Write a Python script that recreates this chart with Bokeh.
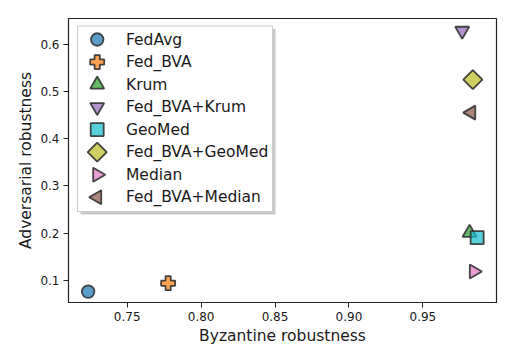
import math
from bokeh.plotting import figure
from bokeh.models import Range1d, FixedTicker, NumeralTickFormatter
from bokeh.core.properties import value
from bokeh.embed import file_html
from bokeh.resources import INLINE

methods = ["FedAvg", "Fed_BVA", "Krum", "Fed_BVA+Krum", "GeoMed",
           "Fed_BVA+GeoMed", "Median", "Fed_BVA+Median"]
byzantine = [0.7236, 0.7777, 0.9816, 0.9766, 0.9867, 0.9838, 0.9845, 0.9827]
adversarial = [0.0765, 0.0943, 0.2010, 0.6280, 0.1908, 0.5247, 0.1192, 0.4550]
colors = ["#1f77b4", "#ff7f0e", "#2ca02c", "#9467bd", "#17becf",
          "#bcbd22", "#e377c2", "#8c564b"]
markers = ["circle", "plus", "triangle", "inverted_triangle", "square",
           "square", "triangle", "triangle"]
angles = [0, 0, 0, 0, 0, math.pi / 4, -math.pi / 2, math.pi / 2]
sizes = [12.5, 14, 14, 14, 13, 13.5, 14, 14]
x_ticks = [0.75, 0.80, 0.85, 0.90, 0.95]
y_ticks = [0.1, 0.2, 0.3, 0.4, 0.5, 0.6]

FONT = "DejaVu Sans"

# layout (pixels)
W, H = 508, 355
BL, BR, BT, BB = 68, 12, 18, 53
FW, FH = W - BL - BR, H - BT - BB

p = figure(width=W, height=H, output_backend="svg", toolbar_location=None,
           x_range=Range1d(0.7103, 0.9998), y_range=Range1d(0.0535, 0.654),
           min_border_left=BL, min_border_right=BR, min_border_top=BT,
           min_border_bottom=BB)
p.xgrid.visible = False
p.ygrid.visible = False
p.outline_line_color = "#222222"
p.outline_line_width = 1.2
p.background_fill_color = "white"
p.border_fill_color = "white"

p.xaxis.ticker = FixedTicker(ticks=x_ticks)
p.yaxis.ticker = FixedTicker(ticks=y_ticks)
p.xaxis.formatter = NumeralTickFormatter(format="0.00")
p.yaxis.formatter = NumeralTickFormatter(format="0.0")
p.xaxis.axis_label = "Byzantine robustness"
p.yaxis.axis_label = "Adversarial robustness"
for ax in (p.xaxis, p.yaxis):
    ax.axis_line_color = "#222222"
    ax.major_tick_line_color = "#222222"
    ax.minor_tick_line_color = None
    ax.major_tick_in = 0
    ax.major_tick_out = 5
    ax.major_label_text_font = FONT
    ax.major_label_text_font_size = "12px"
    ax.major_label_text_color = "#1a1a1a"
    ax.axis_label_text_font = FONT
    ax.axis_label_text_font_size = "15.5px"
    ax.axis_label_text_font_style = "normal"
    ax.axis_label_text_color = "#1a1a1a"
    ax.major_label_standoff = 4
p.xaxis.axis_label_standoff = 3
p.yaxis.axis_label_standoff = 2

style = dict(fill_alpha=0.72, line_color="#333333", line_alpha=0.9, line_width=1.8)

for i in range(len(methods)):
    p.scatter(x=[byzantine[i]], y=[adversarial[i]], marker=markers[i],
              size=sizes[i], angle=angles[i], fill_color=colors[i], **style)

# legend drawn in a pixel coordinate system of the plot frame
p.extra_x_ranges = {"lx": Range1d(0, FW)}
p.extra_y_ranges = {"ly": Range1d(0, FH)}
LEG_L, LEG_T, LEG_R, LEG_B = 9, 7.5, 204, 193
ROW0, PITCH = 21.0, 22.53
GLYPH_X, TEXT_X = 28.7, 57.5

p.quad(left=[LEG_L + 3], right=[LEG_R + 3], top=[FH - LEG_T - 3], bottom=[FH - LEG_B - 3],
       fill_color="#888888", fill_alpha=0.45, line_color=None,
       x_range_name="lx", y_range_name="ly")
p.quad(left=[LEG_L], right=[LEG_R], top=[FH - LEG_T], bottom=[FH - LEG_B],
       fill_color="white", line_color="#cccccc", line_width=1,
       x_range_name="lx", y_range_name="ly")

leg_y = [FH - (ROW0 + PITCH * i) for i in range(len(methods))]
for i in range(len(methods)):
    p.scatter(x=[GLYPH_X], y=[leg_y[i]], marker=markers[i], size=sizes[i],
              angle=angles[i], fill_color=colors[i], x_range_name="lx",
              y_range_name="ly", **style)
p.text(x=[TEXT_X] * len(methods), y=leg_y, text=methods,
       text_font=value(FONT), text_font_size="15.5px", text_color="#1a1a1a",
       text_baseline="middle", text_align="left",
       x_range_name="lx", y_range_name="ly")

open("out.html", "w").write(file_html(p, INLINE))
